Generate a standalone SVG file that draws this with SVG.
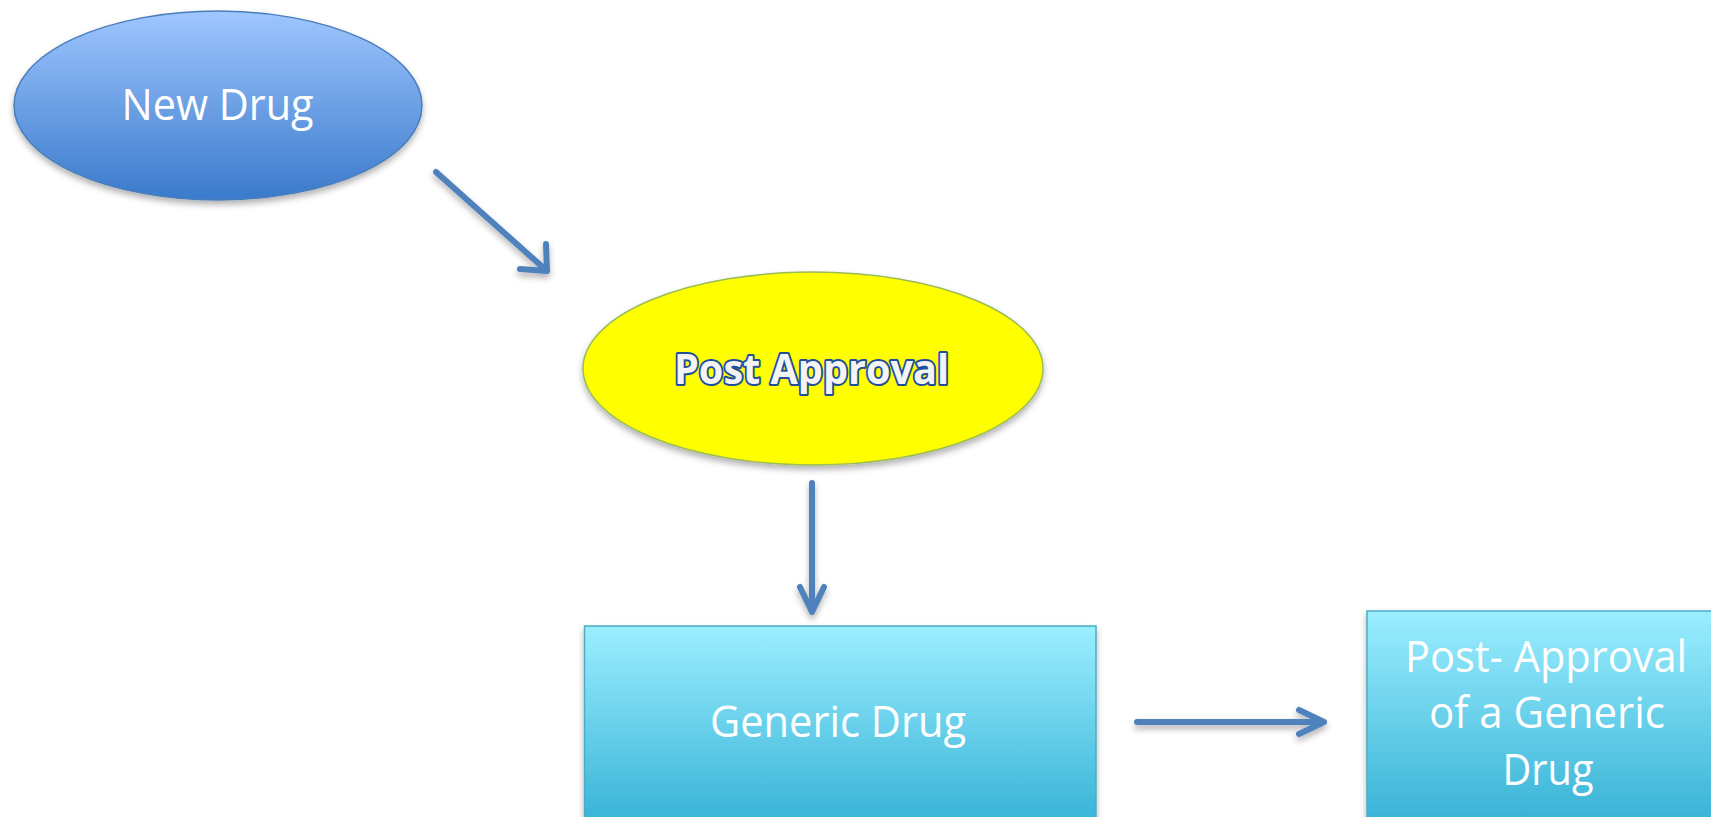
<svg xmlns="http://www.w3.org/2000/svg" width="1711" height="817" viewBox="0 0 1711 817">
  <style>
    .lbl { font-family: "Open Sans", "Liberation Sans", sans-serif; font-size: 44px; fill: #ffffff; text-anchor: middle; }
    .bold { font-family: "Open Sans", "Liberation Sans", sans-serif; font-size: 42px; font-weight: bold; fill: #f4f4f4; stroke: #1f4e9a; stroke-width: 4px; paint-order: stroke; stroke-linejoin: round; text-anchor: middle; }
    .conn { fill: none; stroke: #4f81bd; stroke-width: 6; stroke-linecap: round; stroke-linejoin: round; }
  </style>
  <defs>
    <linearGradient id="gBlue" x1="0" y1="0" x2="0" y2="1">
      <stop offset="0" stop-color="#9fc6ff"/>
      <stop offset="1" stop-color="#3a7acb"/>
    </linearGradient>
    <linearGradient id="gCyan2" gradientUnits="userSpaceOnUse" x1="0" y1="611" x2="0" y2="817">
      <stop offset="0" stop-color="#9beeff"/>
      <stop offset="1" stop-color="#3bb4d7"/>
    </linearGradient>
    <linearGradient id="gCyan1" gradientUnits="userSpaceOnUse" x1="0" y1="626" x2="0" y2="817">
      <stop offset="0" stop-color="#9beeff"/>
      <stop offset="1" stop-color="#3bb5d8"/>
    </linearGradient>
    <filter id="shadow" x="-10%" y="-10%" width="120%" height="130%">
      <feDropShadow dx="0" dy="4" stdDeviation="3" flood-color="#000000" flood-opacity="0.3"/>
    </filter>
  </defs>

  <g id="connectors" filter="url(#shadow)">
    <path class="conn" d="M436 172 L547 271 M520 269 L547 271 L546 244"/>
    <path class="conn" d="M812 483 L812 612 M800 587 L812 612 L824 587"/>
    <path class="conn" d="M1137 722 L1324 722 M1299 710 L1324 722 L1299 734"/>
  </g>

  <g id="node-new-drug">
    <ellipse cx="218" cy="105.5" rx="204" ry="94.5" fill="url(#gBlue)" stroke="#4a7ebb" stroke-width="1.5" filter="url(#shadow)"/>
    <text class="lbl" x="217.5" y="120" textLength="192" lengthAdjust="spacingAndGlyphs">New Drug</text>
  </g>

  <g id="node-post-approval">
    <ellipse cx="813" cy="368.5" rx="230" ry="96.5" fill="#ffff00" stroke="#9bbb59" stroke-width="1.5" filter="url(#shadow)"/>
    <text class="bold" x="811.5" y="384" textLength="275" lengthAdjust="spacingAndGlyphs">Post Approval</text>
  </g>

  <g id="node-generic-drug">
    <rect x="584.5" y="626" width="511.5" height="200" fill="url(#gCyan1)" stroke="#4bacc6" stroke-width="1.5" filter="url(#shadow)"/>
    <text class="lbl" x="838" y="737" textLength="256" lengthAdjust="spacingAndGlyphs">Generic Drug</text>
  </g>

  <g id="node-post-approval-generic">
    <rect x="1367" y="611" width="360" height="220" fill="url(#gCyan2)" stroke="#4bacc6" stroke-width="1.5" filter="url(#shadow)"/>
    <text class="lbl" x="1546" y="672" textLength="282" lengthAdjust="spacingAndGlyphs">Post- Approval</text>
    <text class="lbl" x="1547" y="728" textLength="236" lengthAdjust="spacingAndGlyphs">of a Generic</text>
    <text class="lbl" x="1548" y="785" textLength="91" lengthAdjust="spacingAndGlyphs">Drug</text>
  </g>
</svg>
